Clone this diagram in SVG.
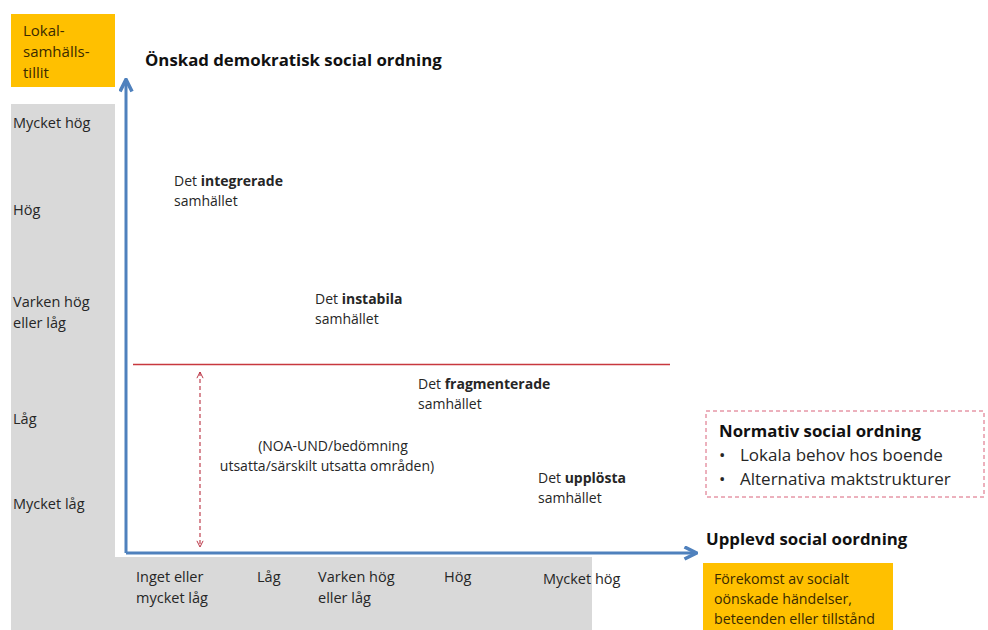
<svg xmlns="http://www.w3.org/2000/svg" width="988" height="630" viewBox="0 0 988 630">
<style>
text{font-family:"Open Sans","Noto Sans",sans-serif;fill:#262626;}
.lbl{font-size:14.5px;}
.soc{font-size:14px;}
.b{font-weight:bold;}
.hd{font-size:16.8px;font-weight:bold;fill:#111;}
.li{font-size:17px;}
.or{font-size:14.2px;fill:#3a2a00;}
.tl{font-size:15px;fill:#3a2a00;}
</style>
<defs>
<marker id="ab" viewBox="0 0 10 10" refX="8" refY="5" markerWidth="5" markerHeight="5" orient="auto"><path d="M1,1 L9,5 L1,9" fill="none" stroke="#4F81BD" stroke-width="2.4"/></marker>
<marker id="ar" viewBox="0 0 10 10" refX="9" refY="5" markerWidth="8" markerHeight="8" orient="auto-start-reverse"><path d="M2,1.5 L9,5 L2,8.5" fill="none" stroke="#B83040" stroke-width="1.1"/></marker>
</defs>
<rect width="988" height="630" fill="#fff"/>
<g id="panel">
<rect x="11" y="104" width="104" height="526" fill="#D9D9D9"/>
<rect x="11" y="557" width="581" height="73" fill="#D9D9D9"/>
</g>
<g id="trust-box">
<rect x="11" y="14" width="104" height="73" fill="#FFC000"/>
<text class="tl" x="23" y="36">Lokal-</text>
<text class="tl" x="23" y="57">samhälls-</text>
<text class="tl" x="23" y="78">tillit</text>
</g>
<g id="y-title"><text class="hd" x="145" y="66">Önskad demokratisk social ordning</text></g>
<g id="y-labels" class="lbl">
<text x="13" y="128">Mycket hög</text>
<text x="13" y="215">Hög</text>
<text x="13" y="307">Varken  hög</text>
<text x="13" y="328">eller låg</text>
<text x="13" y="424">Låg</text>
<text x="13" y="509">Mycket låg</text>
</g>
<g id="x-labels" class="lbl">
<text x="136" y="582">Inget eller</text>
<text x="136" y="603">mycket låg</text>
<text x="257" y="582">Låg</text>
<text x="318" y="582">Varken  hög</text>
<text x="318" y="603">eller låg</text>
<text x="444" y="582">Hög</text>
<text x="543" y="584">Mycket hög</text>
</g>
<g id="connectors">
<path d="M126,553 L126,81" stroke="#4F81BD" stroke-width="3" fill="none" marker-end="url(#ab)"/>
<path d="M126,553 L695,553" stroke="#4F81BD" stroke-width="3" fill="none" marker-end="url(#ab)"/>
<line x1="133" y1="364.5" x2="670" y2="364.5" stroke="#C8383E" stroke-width="1.3"/>
<line x1="200" y1="372" x2="200" y2="547" stroke="#B83040" stroke-width="1.1" stroke-dasharray="4,3" marker-start="url(#ar)" marker-end="url(#ar)"/>
</g>
<g id="integrated" class="soc">
<text x="174" y="186">Det <tspan class="b">integrerade</tspan></text>
<text x="174" y="206">samhället</text>
</g>
<g id="unstable" class="soc">
<text x="315" y="304">Det <tspan class="b">instabila</tspan></text>
<text x="315" y="324">samhället</text>
</g>
<g id="fragmented" class="soc">
<text x="418" y="389">Det <tspan class="b">fragmenterade</tspan></text>
<text x="418" y="409">samhället</text>
</g>
<g id="noa" class="soc">
<text x="333" y="451" text-anchor="middle">(NOA-UND/bedömning</text>
<text x="327" y="471" text-anchor="middle">utsatta/särskilt utsatta områden)</text>
</g>
<g id="dissolved" class="soc">
<text x="538" y="483">Det <tspan class="b">upplösta</tspan></text>
<text x="538" y="503">samhället</text>
</g>
<g id="normative">
<rect x="706" y="411" width="278" height="86" fill="none" stroke="#D9627A" stroke-width="1" stroke-dasharray="4,3"/>
<text class="hd" x="719" y="437">Normativ social ordning</text>
<text class="li" x="719" y="461">•</text>
<text class="li" x="740" y="461">Lokala behov hos boende</text>
<text class="li" x="719" y="485">•</text>
<text class="li" x="740" y="485">Alternativa maktstrukturer</text>
</g>
<g id="x-title"><text class="hd" x="706" y="545">Upplevd social oordning</text></g>
<g id="events-box">
<rect x="703" y="563" width="190" height="67" fill="#FFC000"/>
<text class="or" x="714" y="584">Förekomst av socialt</text>
<text class="or" x="714" y="604">oönskade händelser,</text>
<text class="or" x="714" y="624">beteenden  eller tillstånd</text>
</g>
</svg>
